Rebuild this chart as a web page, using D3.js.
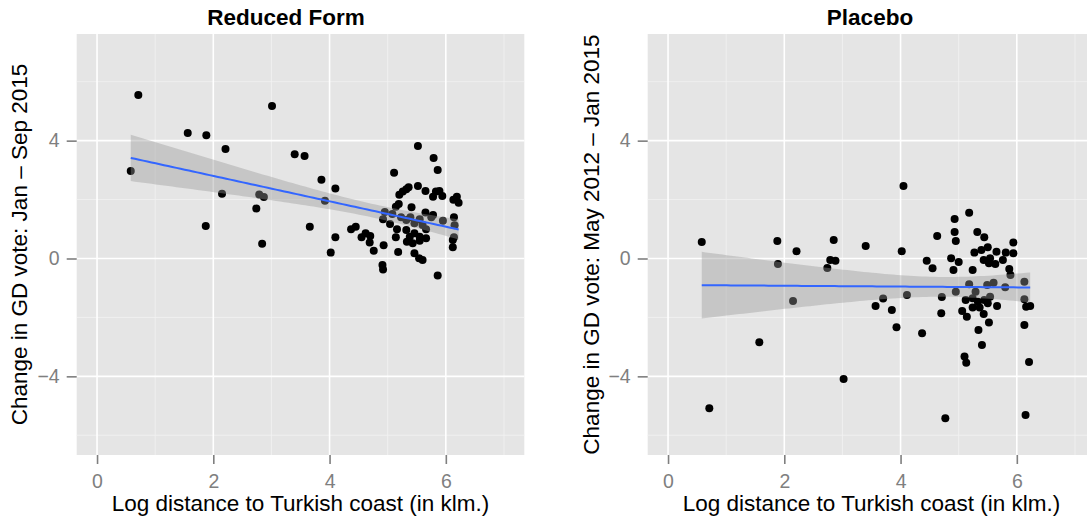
<!DOCTYPE html>
<html>
<head>
<meta charset="utf-8">
<script src="https://cdn.jsdelivr.net/npm/d3@7"></script>
<style>
  html, body { margin: 0; padding: 0; background: #ffffff; }
  svg { display: block; font-family: "Liberation Sans", Arial, Helvetica, sans-serif; }
</style>
</head>
<body>
<svg id="chart" width="1087" height="520"></svg>
<script>
// Log distance to the Turkish coast and change in Golden Dawn vote share, per municipality
const reducedX = [0.71,0.58,1.56,1.88,2.21,3.01,3.40,3.57,2.15,2.79,2.87,2.74,1.87,2.84,3.66,
  3.86,3.92,4.10,4.10,4.02,4.37,4.45,4.55,4.62,4.70,4.69,4.76,4.93,4.91,4.92,5.11,5.52,5.79,5.86,5.86,5.18,
  5.20,5.26,5.32,5.36,5.52,5.65,5.78,5.83,5.89,5.94,6.13,6.19,6.22,6.14,6.15,6.12,6.12,6.14,5.95,
  5.14,5.19,4.95,4.92,5.08,5.04,5.16,5.14,5.23,5.32,5.41,
  5.39,5.46,5.55,5.60,5.66,5.75,5.65,5.78,
  5.32,5.38,5.46,5.55,5.33,5.43,5.55,5.46,5.54,5.60,5.66];
const reducedY = [5.55,2.97,4.26,4.18,3.72,5.18,3.54,3.48,2.20,2.17,2.09,1.70,1.10,0.50,1.08,
  2.67,1.96,2.38,0.72,0.20,0.99,1.08,0.72,0.86,0.76,0.54,0.26,0.45,-0.22,-0.37,2.91,3.82,3.41,3.00,-0.58,0.22,
  2.16,2.27,2.35,2.42,2.46,2.29,2.10,2.27,2.29,2.12,1.99,2.10,1.89,1.40,1.13,0.63,0.38,0.72,1.28,
  1.76,1.85,1.58,1.33,1.51,1.17,0.99,0.72,1.40,1.31,1.74,
  1.40,1.20,1.33,1.14,0.99,1.40,1.56,1.48,
  0.97,0.74,0.86,0.74,0.57,0.52,0.60,0.18,0.01,-0.05,0.69];

const placeboX = [0.58,1.88,2.21,2.85,3.40,1.89,2.79,2.88,2.74,2.15,3.70,3.57,1.57,3.02,0.71,3.85,
  4.05,5.18,4.93,4.93,4.95,4.63,4.02,4.45,4.55,4.87,5.00,4.91,5.24,5.32,5.44,5.94,
  5.27,5.39,5.50,5.43,5.54,5.63,5.52,5.65,5.76,5.81,5.94,
  5.87,5.89,5.80,6.13,6.13,6.16,6.23,6.13,6.21,6.15,4.77,
  3.93,4.37,4.11,4.71,4.70,4.95,5.18,5.29,
  5.12,5.24,5.33,5.44,5.54,5.50,5.36,5.24,5.43,
  5.49,5.60,5.66,5.06,5.14,5.52,5.34,5.40,5.10,5.13];
const placeboY = [0.56,0.59,0.25,0.63,0.42,-0.19,-0.05,-0.08,-0.32,-1.44,-1.36,-1.61,-2.84,-4.09,-5.08,-1.75,
  2.46,1.55,1.34,0.90,0.59,0.76,0.25,-0.08,-0.33,0.01,-0.12,-0.39,-0.39,0.90,0.72,0.54,
  0.20,0.29,0.38,-0.05,0.01,-0.19,-0.16,0.23,-0.05,0.20,0.18,
  -0.36,-0.56,-0.98,-0.79,-1.38,-1.64,-1.61,-2.26,-3.51,-5.31,-5.42,
  -2.33,-2.54,-1.24,-1.31,-1.86,-1.13,-0.87,-1.13,
  -1.41,-1.35,-1.47,-1.41,-1.30,-1.52,-1.66,-1.66,-1.88,
  -0.90,-0.82,-1.61,-1.78,-1.98,-2.17,-2.43,-2.94,-3.33,-3.54];

const panelTitles = ["Reduced Form", "Placebo"];
const yTitles = ["Change in GD vote: Jan \u2013 Sep 2015", "Change in GD vote: May 2012 \u2013 Jan 2015"];
const xTitle = "Log distance to Turkish coast (in klm.)";
const xMajor = [0, 2, 4, 6];
const xMinor = [1, 3, 5, 7];
const yMajor = [-4, 0, 4];
const yMinor = [-6, -2, 2, 6];
const xDomain = [-0.35, 7.35];
const yDomain = [-6.67, 7.62];

const svg = d3.select("#chart");

// Ordinary least squares fit with a 95% confidence band, evaluated on a grid
function lmBand(xs, ys, steps) {
  const n = xs.length;
  const mx = d3.mean(xs), my = d3.mean(ys);
  let sxx = 0, sxy = 0;
  for (let i = 0; i < n; i++) { sxx += (xs[i] - mx) ** 2; sxy += (xs[i] - mx) * (ys[i] - my); }
  const b = sxy / sxx, a = my - b * mx;
  let sse = 0;
  for (let i = 0; i < n; i++) sse += (ys[i] - a - b * xs[i]) ** 2;
  const df = n - 2, s = Math.sqrt(sse / df);
  const z = 1.959964, t = z + (z ** 3 + z) / (4 * df);
  const [lo, hi] = d3.extent(xs);
  return d3.range(steps).map(i => {
    const x = lo + (hi - lo) * i / (steps - 1);
    const fit = a + b * x;
    const se = s * Math.sqrt(1 / n + (x - mx) ** 2 / sxx);
    return { x, fit, lo: fit - t * se, hi: fit + t * se };
  });
}

function drawPanel(cfg) {
  const { left, right, top, bottom, xs, ys, title, titleX, yTitle, yTitleX } = cfg;
  const x = d3.scaleLinear().domain(xDomain).range([left, right]);
  const y = d3.scaleLinear().domain(yDomain).range([bottom, top]);
  const g = svg.append("g");

  g.append("rect").attr("x", left).attr("y", top)
    .attr("width", right - left).attr("height", bottom - top).attr("fill", "#E5E5E5");

  // grid
  g.selectAll(".xmin").data(xMinor).join("line")
    .attr("x1", d => x(d)).attr("x2", d => x(d)).attr("y1", top).attr("y2", bottom)
    .attr("stroke", "#F2F2F2").attr("stroke-width", 0.8);
  g.selectAll(".ymin").data(yMinor).join("line")
    .attr("y1", d => y(d)).attr("y2", d => y(d)).attr("x1", left).attr("x2", right)
    .attr("stroke", "#F2F2F2").attr("stroke-width", 0.8);
  g.selectAll(".xmaj").data(xMajor).join("line")
    .attr("x1", d => x(d)).attr("x2", d => x(d)).attr("y1", top).attr("y2", bottom)
    .attr("stroke", "#FFFFFF").attr("stroke-width", 1.6);
  g.selectAll(".ymaj").data(yMajor).join("line")
    .attr("y1", d => y(d)).attr("y2", d => y(d)).attr("x1", left).attr("x2", right)
    .attr("stroke", "#FFFFFF").attr("stroke-width", 1.6);

  // points
  g.selectAll(".pt").data(xs.map((v, i) => [v, ys[i]])).join("circle")
    .attr("cx", d => x(d[0])).attr("cy", d => y(d[1])).attr("r", 4).attr("fill", "#000");

  // linear fit and confidence band
  const band = lmBand(xs, ys, 80);
  g.append("path").datum(band)
    .attr("d", d3.area().x(d => x(d.x)).y0(d => y(d.lo)).y1(d => y(d.hi)))
    .attr("fill", "#999999").attr("fill-opacity", 0.4);
  g.append("path").datum(band)
    .attr("d", d3.line().x(d => x(d.x)).y(d => y(d.fit)))
    .attr("fill", "none").attr("stroke", "#3366FF").attr("stroke-width", 2);

  // axes
  const xAxis = d3.axisBottom(x).tickValues(xMajor).tickSize(9).tickPadding(10).tickFormat(d3.format("d"));
  const ax = g.append("g").attr("transform", `translate(0,${bottom})`).call(xAxis);
  const yAxis = d3.axisLeft(y).tickValues(yMajor).tickSize(10).tickPadding(7)
    .tickFormat(d => d < 0 ? "\u2212" + Math.abs(d) : String(d));
  const ay = g.append("g").attr("transform", `translate(${left},0)`).call(yAxis);
  [ax, ay].forEach(a => {
    a.select(".domain").remove();
    a.selectAll(".tick line").attr("stroke", "#7F7F7F").attr("stroke-width", 1.6);
    a.selectAll(".tick text").attr("fill", "#7F7F7F").style("font-size", "19.5px")
      .style("font-family", "'Liberation Sans', Arial, sans-serif");
  });

  g.append("text").attr("x", titleX).attr("y", 25).attr("text-anchor", "middle")
    .style("font-size", "22.5px").style("font-weight", "bold").text(title);
  g.append("text").attr("x", (left + right) / 2).attr("y", 511).attr("text-anchor", "middle")
    .style("font-size", "22.5px").text(xTitle);
  g.append("text").attr("transform", `translate(${yTitleX},${(top + bottom) / 2}) rotate(-90)`)
    .attr("text-anchor", "middle").style("font-size", "22.5px").text(yTitle);
}

drawPanel({ left: 76.7, right: 524.3, top: 34, bottom: 455, xs: reducedX, ys: reducedY,
  title: panelTitles[0], titleX: 286, yTitle: yTitles[0], yTitleX: 27 });
drawPanel({ left: 647.7, right: 1095.3, top: 34, bottom: 455, xs: placeboX, ys: placeboY,
  title: panelTitles[1], titleX: 870, yTitle: yTitles[1], yTitleX: 599 });
</script>
</body>
</html>
